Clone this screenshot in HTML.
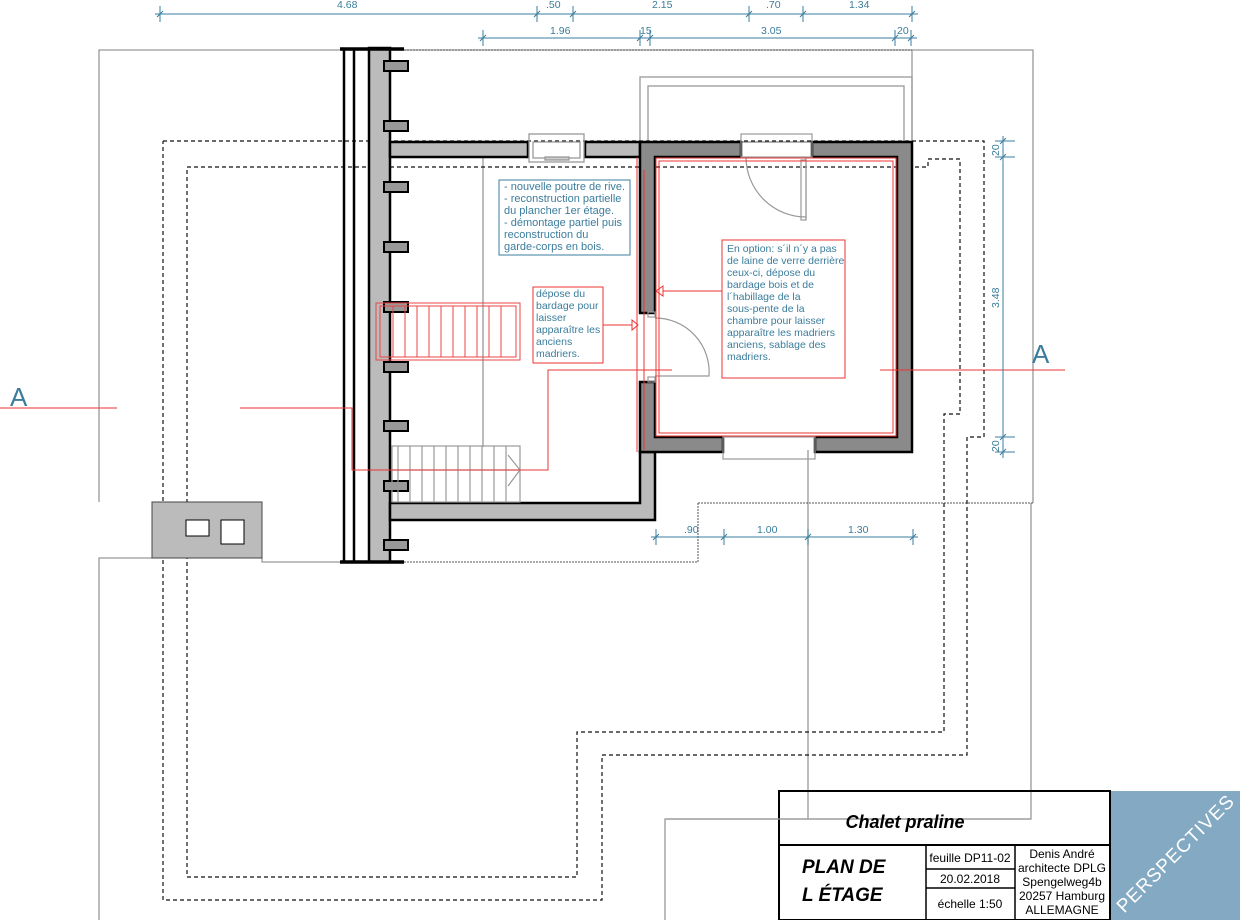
<!DOCTYPE html>
<html><head><meta charset="utf-8"><style>
html,body{margin:0;padding:0;background:#fff;}
svg{display:block;}
text{font-family:"Liberation Sans",sans-serif;}
.t{fill:#3b7d9c;font-size:10.5px;}
.t1{fill:#3b7d9c;font-size:11px;}
.d{fill:#3b7d9c;font-size:10.5px;}
</style></head><body>
<svg width="1240" height="920" viewBox="0 0 1240 920" xmlns="http://www.w3.org/2000/svg">
<g fill="none" stroke="#999" stroke-width="1.3">
<polyline points="99,502 99,50 1033,50 1033,503"/>
<polyline points="152,558 99,558 99,920"/>
<polyline points="262,558 262,562 340,562"/>
<polyline points="808,450 808,819 1031,819 1031,503"/>
<polyline points="665,920 665,819 808,819"/>
<line x1="483" y1="157" x2="483" y2="447"/>
<rect x="640" y="77" width="272" height="65"/>
<rect x="648" y="86" width="256" height="56"/>
<line x1="912" y1="50" x2="912" y2="142"/>
</g>
<g fill="none" stroke="#555" stroke-width="1" stroke-dasharray="2,1">
<polyline points="698,503 1033,503"/>
<polyline points="698,503 698,562 390,562"/>
<line x1="404" y1="50" x2="912" y2="50"/>
</g>
<g fill="none" stroke="#111" stroke-width="1.2" stroke-dasharray="4,3">
<polyline points="163,141 984,141 984,437 967,437 967,755 602,755 602,900 163,900 163,141"/>
<polyline points="187,167 928,167 928,159 960,159 960,414 944,414 944,732 577,732 577,877 187,877 187,167"/>
</g>
<rect x="152" y="502" width="110" height="56" fill="#bbb" stroke="#444" stroke-width="1"/>
<rect x="186" y="520" width="23" height="16" fill="#fff" stroke="#000"/>
<rect x="221" y="520" width="23" height="24" fill="#fff" stroke="#000"/>
<rect x="369" y="48" width="21" height="514" fill="#bbb" stroke="#000" stroke-width="2.5"/>
<line x1="344" y1="48" x2="344" y2="562" stroke="#000" stroke-width="2.5"/>
<line x1="354" y1="48" x2="354" y2="562" stroke="#000" stroke-width="2.5"/>
<line x1="340" y1="49" x2="404" y2="49" stroke="#000" stroke-width="3.5"/>
<line x1="340" y1="562" x2="404" y2="562" stroke="#000" stroke-width="3.5"/>
<g fill="#999" stroke="#000" stroke-width="2">
<rect x="384" y="61" width="24" height="10"/><rect x="384" y="121" width="24" height="10"/>
<rect x="384" y="182" width="24" height="10"/><rect x="384" y="242" width="24" height="10"/>
<rect x="384" y="302" width="24" height="10"/><rect x="384" y="362" width="24" height="10"/>
<rect x="384" y="421" width="24" height="10"/><rect x="384" y="481" width="24" height="10"/>
<rect x="384" y="540" width="24" height="10"/>
</g>
<g fill="#bbb" stroke="#000" stroke-width="2.5">
<rect x="390" y="142" width="138" height="15"/>
<rect x="585" y="142" width="55" height="15"/>
<polygon points="390,503 640,503 640,452 655,452 655,520 390,520"/>
</g>
<g fill="none" stroke="#999" stroke-width="1.3">
<rect x="529" y="134" width="55" height="28"/>
<rect x="533" y="142" width="47" height="16"/>
<rect x="545" y="157" width="24" height="3" fill="#ccc"/>
</g>
<path d="M640,142 H741 V157 H655 V313 H640 Z M812,142 H912 V452 H815 V437 H897 V157 H812 Z M640,382 H655 V437 H723 V452 H640 Z" fill="#8a8a8a" stroke="#000" stroke-width="2.5"/>
<g fill="none" stroke="#999" stroke-width="1.2">
<rect x="741" y="134" width="71" height="23"/>
<rect x="723" y="437" width="92" height="22"/>
<path d="M746,157 A60,60 0 0 0 806,217"/>
<line x1="806" y1="157" x2="806" y2="220"/>
<rect x="801" y="160" width="5" height="60"/>
<path d="M655,318 A54,54 0 0 1 709,376 H655"/>
<rect x="648" y="312" width="7" height="5"/>
<rect x="648" y="377" width="7" height="5"/>
</g>
<g fill="none" stroke="#e33" stroke-width="1">
<rect x="656" y="158" width="240" height="278"/>
<rect x="659" y="161" width="234" height="272"/>
<polyline points="637,157 637,452"/>
<polyline points="644,170 644,450"/>
</g>
<g fill="none" stroke="#e44" stroke-width="1">
<rect x="376" y="303" width="144" height="57"/>
<rect x="380" y="306" width="136" height="51"/>
<path d="M393,306 V357 M405,306 V357 M417,306 V357 M429,306 V357 M441,306 V357 M453,306 V357 M465,306 V357 M477,306 V357 M489,306 V357 M501,306 V357"/>
</g>
<g fill="none" stroke="#999" stroke-width="1.2">
<rect x="392" y="446" width="128" height="56"/>
<path d="M398,446 V502 M410,446 V502 M422,446 V502 M434,446 V502 M446,446 V502 M458,446 V502 M470,446 V502 M482,446 V502 M494,446 V502 M506,446 V502"/>
<path d="M392,470 H520 M508,455 L520,470 L508,486"/>
</g>
<g fill="none" stroke="#e33" stroke-width="1">
<line x1="0" y1="408" x2="117" y2="408"/>
<polyline points="240,408 352,408 352,470 548,470 548,370 672,370"/>
<line x1="880" y1="370" x2="1065" y2="370"/>
<line x1="603" y1="325" x2="632" y2="325"/>
<polygon points="632,320 638,325 632,330"/>
<line x1="663" y1="291" x2="722" y2="291"/>
<polygon points="663,286 656,291 663,296"/>
</g>
<text x="10" y="406" style="font-size:26px;fill:#3b7d9c">A</text>
<text x="1032" y="363" style="font-size:26px;fill:#3b7d9c">A</text>
<rect x="499" y="180" width="131" height="75" fill="#fff" stroke="#3b7d9c" stroke-width="1"/>
<text class="t1" x="504" y="190">- nouvelle poutre de rive.</text>
<text class="t1" x="504" y="202">- reconstruction partielle</text>
<text class="t1" x="504" y="214">du plancher 1er étage.</text>
<text class="t1" x="504" y="226">- démontage partiel puis</text>
<text class="t1" x="504" y="238">reconstruction du</text>
<text class="t1" x="504" y="250">garde-corps en bois.</text>
<rect x="533" y="287" width="70" height="76" fill="#fff" stroke="#e33" stroke-width="1"/>
<text class="t" x="536" y="297">dépose du</text>
<text class="t" x="536" y="309">bardage pour</text>
<text class="t" x="536" y="321">laisser</text>
<text class="t" x="536" y="333">apparaître les</text>
<text class="t" x="536" y="345">anciens</text>
<text class="t" x="536" y="357">madriers.</text>
<rect x="722" y="240" width="123" height="138" fill="#fff" stroke="#e33" stroke-width="1"/>
<text class="t" x="727" y="252">En option: s´il n´y a pas</text>
<text class="t" x="727" y="264">de laine de verre derrière</text>
<text class="t" x="727" y="276">ceux-ci, dépose du</text>
<text class="t" x="727" y="288">bardage bois et de</text>
<text class="t" x="727" y="300">l´habillage de la</text>
<text class="t" x="727" y="312">sous-pente de la</text>
<text class="t" x="727" y="324">chambre pour laisser</text>
<text class="t" x="727" y="336">apparaître les madriers</text>
<text class="t" x="727" y="348">anciens, sablage des</text>
<text class="t" x="727" y="360">madriers.</text>
<g stroke="#3b7d9c" stroke-width="1" fill="none">
<line x1="155" y1="14" x2="918" y2="14"/>
<path d="M160,6 V22 M537,6 V22 M573,6 V22 M749,6 V22 M803,6 V22 M912,6 V22"/>
<path d="M157,17 L163,11 M534,17 L540,11 M570,17 L576,11 M746,17 L752,11 M800,17 L806,11 M909,17 L915,11"/>
<line x1="478" y1="38" x2="917" y2="38"/>
<path d="M483,30 V46 M640,30 V46 M650,30 V46 M895,30 V46 M911,30 V46"/>
<path d="M480,41 L486,35 M637,41 L643,35 M647,41 L653,35 M892,41 L898,35 M908,41 L914,35"/>
<line x1="1003" y1="136" x2="1003" y2="458"/>
<path d="M995,141 H1015 M995,157 H1015 M995,437 H1015 M995,452 H1015"/>
<path d="M1000,144 L1006,138 M1000,160 L1006,154 M1000,440 L1006,434 M1000,455 L1006,449"/>
<line x1="651" y1="537" x2="918" y2="537"/>
<path d="M656,529 V545 M724,529 V545 M808,529 V545 M913,529 V545"/>
<path d="M653,540 L659,534 M721,540 L727,534 M805,540 L811,534 M910,540 L916,534"/>
</g>
<text class="d" x="337" y="8">4.68</text>
<text class="d" x="546" y="8">.50</text>
<text class="d" x="652" y="8">2.15</text>
<text class="d" x="766" y="8">.70</text>
<text class="d" x="849" y="8">1.34</text>
<text class="d" x="550" y="34">1.96</text>
<text class="d" x="640" y="34">15</text>
<text class="d" x="761" y="34">3.05</text>
<text class="d" x="897" y="34">20</text>
<text class="d" x="684" y="533">.90</text>
<text class="d" x="757" y="533">1.00</text>
<text class="d" x="848" y="533">1.30</text>
<text class="d" transform="translate(999,156) rotate(-90)">20</text>
<text class="d" transform="translate(999,308) rotate(-90)">3.48</text>
<text class="d" transform="translate(999,452) rotate(-90)">20</text>
<rect x="1110" y="791" width="130" height="129" fill="#84a9c3"/>
<text transform="translate(1180,858) rotate(-45)" text-anchor="middle" style="font-size:19px;fill:#fff;letter-spacing:1px">PERSPECTIVES</text>
<g fill="none" stroke="#000" stroke-width="2">
<rect x="779" y="791" width="331" height="129"/>
<line x1="779" y1="845" x2="1110" y2="845"/>
<line x1="926" y1="845" x2="926" y2="920" stroke-width="1.5"/>
<line x1="1015" y1="845" x2="1015" y2="920" stroke-width="1.5"/>
<line x1="926" y1="869" x2="1015" y2="869" stroke-width="1.5"/>
<line x1="926" y1="888" x2="1015" y2="888" stroke-width="1.5"/>
</g>
<line x1="666" y1="819" x2="1031" y2="819" stroke="#999" stroke-width="1.3"/>
<text x="905" y="828" text-anchor="middle" style="font-size:18px;font-weight:bold;font-style:italic">Chalet praline</text>
<text x="802" y="873" style="font-size:19px;font-weight:bold;font-style:italic">PLAN DE</text>
<text x="802" y="901" style="font-size:19px;font-weight:bold;font-style:italic">L ÉTAGE</text>
<g style="font-size:12px" text-anchor="middle">
<text x="970" y="862">feuille DP11-02</text>
<text x="970" y="883">20.02.2018</text>
<text x="970" y="908">échelle 1:50</text>
<text x="1062" y="858">Denis André</text>
<text x="1062" y="872">architecte DPLG</text>
<text x="1062" y="886">Spengelweg4b</text>
<text x="1062" y="900">20257 Hamburg</text>
<text x="1062" y="914">ALLEMAGNE</text>
</g>
</svg>
</body></html>
